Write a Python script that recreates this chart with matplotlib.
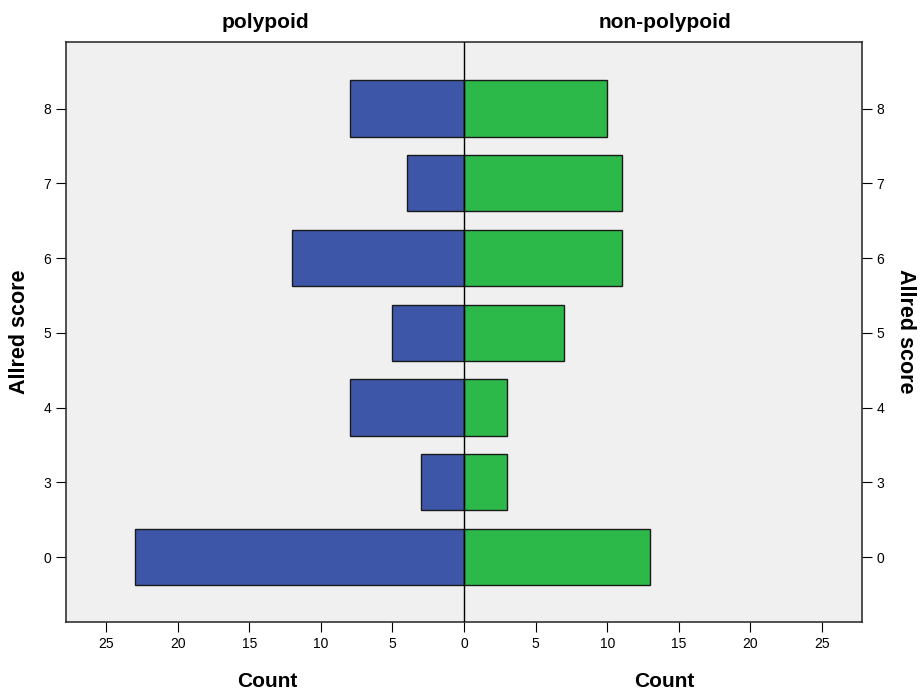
import matplotlib.pyplot as plt

# Allred score categories and counts per group
scores = ['0', '3', '4', '5', '6', '7', '8']
polypoid = [23, 3, 8, 5, 12, 4, 8]
non_polypoid = [13, 3, 3, 7, 11, 11, 10]
ticks = [25, 20, 15, 10, 5, 0, 5, 10, 15, 20, 25]

plt.rcParams['font.family'] = ['Liberation Sans', 'DejaVu Sans']

fig = plt.figure(figsize=(9.22, 6.94), dpi=100)
ax = fig.add_axes([0.0716, 0.1037, 0.8634, 0.8358])
ax.set_facecolor('#f0f0f0')

pos = list(range(len(scores)))
ax.barh(pos, [-v for v in polypoid], height=0.75, color='#3d56a8',
        edgecolor='#1a1a1a', linewidth=1.0, zorder=2)
ax.barh(pos, non_polypoid, height=0.75, color='#2db84a',
        edgecolor='#1a1a1a', linewidth=1.0, zorder=2)
ax.axvline(0, color='black', linewidth=1.0, zorder=3)

ax.set_xlim(-27.8, 27.8)
ax.set_ylim(-0.87, 6.89)
xt = [-25, -20, -15, -10, -5, 0, 5, 10, 15, 20, 25]
ax.set_xticks(xt)
ax.set_xticklabels([str(t) for t in ticks], fontsize=10)
ax.set_yticks(pos)
ax.set_yticklabels(scores, fontsize=10)
ax.tick_params(axis='y', which='both', left=True, right=True,
               labelleft=True, labelright=True, length=7, width=0.8)
ax.tick_params(axis='x', length=7, width=0.8)
for s in ax.spines.values():
    s.set_linewidth(1.2)
    s.set_color('#333333')

fig.text(0.021, 0.522, 'Allred score', rotation=90, fontsize=15.5,
         fontweight='bold', ha='center', va='center')
fig.text(0.982, 0.522, 'Allred score', rotation=270, fontsize=15.5,
         fontweight='bold', ha='center', va='center')

fig.text(0.288, 0.967, 'polypoid', fontsize=15, fontweight='bold', ha='center', va='center')
fig.text(0.721, 0.967, 'non-polypoid', fontsize=15, fontweight='bold', ha='center', va='center')
fig.text(0.290, 0.018, 'Count', fontsize=15, fontweight='bold', ha='center', va='center')
fig.text(0.721, 0.018, 'Count', fontsize=15, fontweight='bold', ha='center', va='center')

fig.savefig('out.png', dpi=100)
